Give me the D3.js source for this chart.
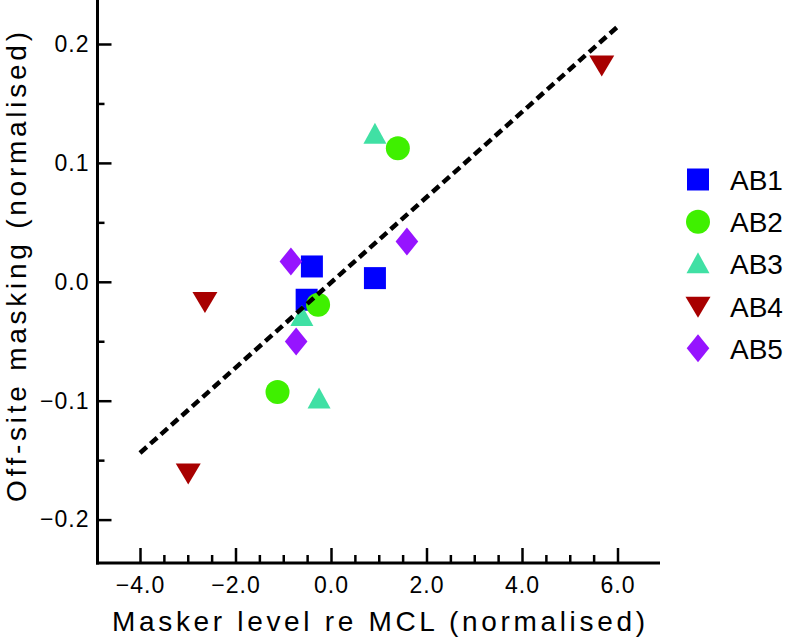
<!DOCTYPE html>
<html>
<head>
<meta charset="utf-8">
<script src="https://cdn.jsdelivr.net/npm/d3@7"></script>
<style>
  html, body { margin: 0; padding: 0; background: #fff; }
  svg { display: block; }
  text { font-family: "Liberation Sans", Arial, Helvetica, sans-serif; fill: #000; }
</style>
</head>
<body>
<svg id="chart" width="789" height="637"></svg>
<script>
// ---- data ----
const seriesNames = ["AB1", "AB2", "AB3", "AB4", "AB5"];
const seriesColors = ["#0000ff", "#3ff000", "#40e0a4", "#a80000", "#9614ff"];
const seriesShapes = ["square", "circle", "triangleUp", "triangleDown", "diamond"];

const ab1X = [-0.40, 0.92, -0.51];
const ab1Y = [0.0129, 0.0031, -0.0151];
const ab2X = [-0.27, -1.12, 1.40];
const ab2Y = [-0.0193, -0.0927, 0.1124];
const ab3X = [0.92, -0.61, -0.25];
const ab3Y = [0.124, -0.0292, -0.0986];
const ab4X = [-2.64, -2.99, 5.67];
const ab4Y = [-0.0166, -0.1608, 0.1824];
const ab5X = [-0.84, -0.73, 1.59];
const ab5Y = [0.0171, -0.0502, 0.0339];

const fitX = [-4.0, 6.0];
const fitY = [-0.144, 0.2145];

const xMajorTicks = [-4, -2, 0, 2, 4, 6];
const xMinorTicks = [-3.5, -3, -2.5, -1.5, -1, -0.5, 0.5, 1, 1.5, 2.5, 3, 3.5, 4.5, 5, 5.5];
const yMajorTicks = [-0.2, -0.1, 0.0, 0.1, 0.2];
const yMinorTicks = [-0.15, -0.05, 0.05, 0.15];

const xTitle = "Masker level re MCL (normalised)";
const yTitle = "Off-site masking (normalised)";

const seriesX = [ab1X, ab2X, ab3X, ab4X, ab5X];
const seriesY = [ab1Y, ab2Y, ab3Y, ab4Y, ab5Y];

(function () {
// ---- layout ----
const svg = d3.select("#chart");
const pLeft = 97.5, pRight = 660, pTop = 0, pBottom = 563;

const x = d3.scaleLinear().domain([-4.89, 6.89]).range([pLeft, pRight]);
const y = d3.scaleLinear().domain([-0.2365, 0.237]).range([pBottom, pTop]);

// marker shape paths (centered at 0,0)
function shapePath(shape) {
  switch (shape) {
    case "square": { const s = 11; return `M${-s},${-s}H${s}V${s}H${-s}Z`; }
    case "circle": { const r = 12; return `M${r},0A${r},${r} 0 1,1 ${-r},0A${r},${r} 0 1,1 ${r},0Z`; }
    case "triangleUp": { const w = 11.5, h = 21; return `M0,${-h*0.55}L${w},${h*0.45}L${-w},${h*0.45}Z`; }
    case "triangleDown": { const w = 12.5, h = 21; return `M${-w},${-h*0.45}L${w},${-h*0.45}L0,${h*0.55}Z`; }
    case "diamond": { const w = 11.3, h = 14; return `M0,${-h}L${w},0L0,${h}L${-w},0Z`; }
  }
}

const fmt = d3.format(".1f");

// ---- axes ----
const gx = svg.append("g").attr("transform", `translate(0,${pBottom})`);
gx.call(d3.axisBottom(x).tickValues(xMajorTicks).tickSize(-15).tickPadding(14).tickFormat(fmt));
const gxm = svg.append("g").attr("transform", `translate(0,${pBottom})`);
gxm.call(d3.axisBottom(x).tickValues(xMinorTicks).tickSize(-8).tickFormat(""));

const gy = svg.append("g").attr("transform", `translate(${pLeft},0)`);
gy.call(d3.axisLeft(y).tickValues(yMajorTicks).tickSize(-14).tickPadding(8).tickFormat(fmt));
const gym = svg.append("g").attr("transform", `translate(${pLeft},0)`);
gym.call(d3.axisLeft(y).tickValues(yMinorTicks).tickSize(-7).tickFormat(""));

[gx, gxm, gy, gym].forEach(g => {
  g.select(".domain").remove();
  g.selectAll(".tick line").attr("stroke", "#000").attr("stroke-width", 2.5);
  g.selectAll(".tick text").attr("font-size", 23).attr("font-family", "Liberation Sans, Arial, sans-serif")
    .attr("fill", "#000").style("letter-spacing", "1px");
});

// axis lines
svg.append("line").attr("x1", pLeft).attr("x2", pLeft).attr("y1", pTop).attr("y2", pBottom + 1.5)
  .attr("stroke", "#000").attr("stroke-width", 3);
svg.append("line").attr("x1", pLeft - 1.5).attr("x2", pRight).attr("y1", pBottom).attr("y2", pBottom)
  .attr("stroke", "#000").attr("stroke-width", 3);

// axis titles
svg.append("text")
  .attr("x", 112).attr("y", 631)
  .attr("font-size", 28)
  .attr("textLength", 533).attr("lengthAdjust", "spacing")
  .text(xTitle);

svg.append("text")
  .attr("transform", "translate(26,502) rotate(-90)")
  .attr("x", 0).attr("y", 0)
  .attr("font-size", 28)
  .attr("textLength", 470).attr("lengthAdjust", "spacing")
  .text(yTitle);

// ---- points ----
const pts = svg.append("g");
seriesNames.forEach((name, i) => {
  const data = seriesX[i].map((xv, j) => ({ x: xv, y: seriesY[i][j] }));
  pts.selectAll(null).data(data).enter().append("path")
    .attr("d", shapePath(seriesShapes[i]))
    .attr("transform", d => `translate(${x(d.x)},${y(d.y)})`)
    .attr("fill", seriesColors[i]);
});

// ---- fit line ----
const fitData = fitX.map((xv, j) => ({ x: xv, y: fitY[j] }));
svg.append("path")
  .datum(fitData)
  .attr("d", d3.line().x(d => x(d.x)).y(d => y(d.y)))
  .attr("fill", "none").attr("stroke", "#000").attr("stroke-width", 4.5)
  .attr("stroke-dasharray", "9,5");

// ---- legend ----
const legend = svg.append("g");
seriesNames.forEach((name, i) => {
  const cy = 179.5 + i * 42.2;
  legend.append("path").attr("d", shapePath(seriesShapes[i]))
    .attr("transform", `translate(698,${cy})`).attr("fill", seriesColors[i]);
  legend.append("text").attr("x", 730).attr("y", cy + 10.5)
    .attr("font-size", 28).text(name);
});
})();
</script>
</body>
</html>
